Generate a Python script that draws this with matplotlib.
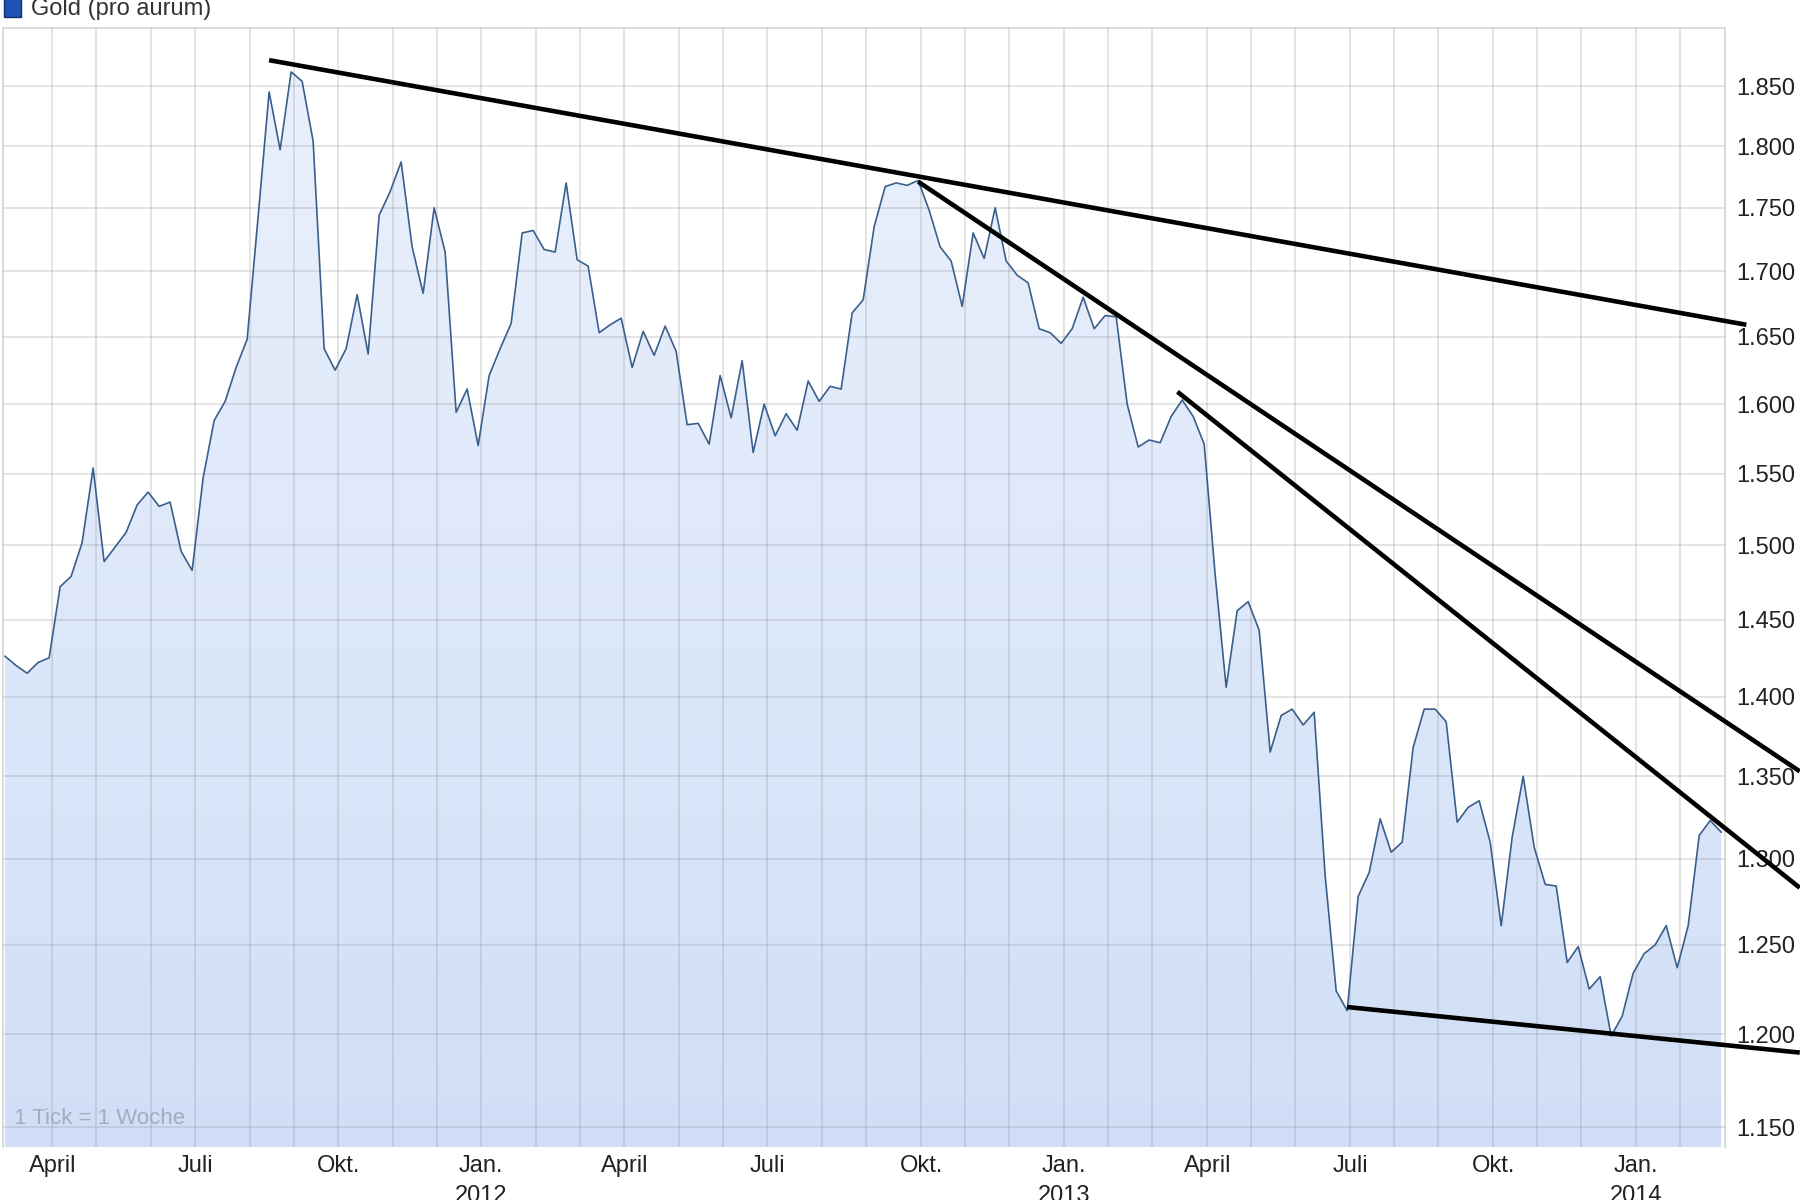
import numpy as np
import pandas as pd
import matplotlib
matplotlib.use("Agg")
import matplotlib.pyplot as plt
import matplotlib.dates as mdates
from matplotlib.ticker import FixedLocator, FuncFormatter, NullLocator
from matplotlib.image import AxesImage
from matplotlib.patches import Rectangle
from matplotlib.colors import LinearSegmentedColormap

# ---------------- data ----------------
start_date = "2011-03-04"          # first weekly close (Friday)
gold_usd = [
    1426, 1420, 1415, 1422, 1425, 1472, 1479, 1502, 1554, 1489,
    1499, 1509, 1528, 1537, 1527, 1530, 1496, 1483, 1547, 1588,
    1602, 1627, 1648, 1743, 1845, 1797, 1862, 1854, 1804, 1641,
    1625, 1641, 1682, 1637, 1744, 1763, 1787, 1719, 1683, 1750,
    1715, 1594, 1611, 1570, 1621, 1641, 1660, 1730, 1732, 1717,
    1715, 1770, 1709, 1704, 1653, 1659, 1664, 1627, 1654, 1636,
    1658, 1639, 1585, 1586, 1571, 1621, 1590, 1632, 1565, 1600,
    1577, 1593, 1581, 1617, 1602, 1613, 1611, 1668, 1678, 1735,
    1767, 1770, 1768, 1772, 1748, 1719, 1708, 1673, 1730, 1710,
    1750, 1708, 1697, 1691, 1656, 1653, 1645, 1656, 1680, 1656,
    1666, 1665, 1600, 1569, 1574, 1572, 1591, 1603, 1591, 1571,
    1480, 1406, 1456, 1462, 1443, 1365, 1388, 1392, 1382, 1390,
    1290, 1224, 1213, 1278, 1292, 1324, 1304, 1310, 1368, 1392,
    1392, 1384, 1322, 1331, 1335, 1310, 1261, 1313, 1350, 1307,
    1285, 1284, 1240, 1249, 1225, 1232, 1199, 1210, 1234, 1245,
    1250, 1261, 1237, 1261, 1314, 1323, 1316,
]

y_ticks = list(range(1150, 1851, 50))
y_limits = (1139.8, 1899.7)
x_limits = ("2011-03-02 11:00", "2014-03-02 10:00")
grid_months = ("2011-04-01", "2014-02-01")
quarter_names = {1: "Jan.", 4: "April", 7: "Juli", 10: "Okt."}

# hand-drawn trend lines (start / end in data space)
trend_start_dates = ["2011-08-19", "2012-10-05", "2013-03-19", "2013-07-05"]
trend_start_vals = [1872, 1771, 1609, 1215]
trend_end_dates = ["2014-03-16", "2014-04-19", "2014-04-19", "2014-04-19"]
trend_end_vals = [1659, 1353, 1283, 1190]

legend_label = "Gold (pro aurum)"
tick_note = "1 Tick = 1 Woche"

# ---------------- figure ----------------
plt.rcParams["font.family"] = ["Liberation Sans Narrow", "Liberation Sans", "DejaVu Sans"]

fig = plt.figure(figsize=(18, 12), dpi=100)
ax = fig.add_axes([2.7 / 1800, 1 - 1147 / 1200, (1725 - 2.7) / 1800, (1147 - 28) / 1200])

dates = pd.date_range(start_date, periods=len(gold_usd), freq="7D")
xd = mdates.date2num(dates.to_pydatetime())
vals = np.array(gold_usd, dtype=float)

ax.set_yscale("log")
ax.set_xlim(mdates.date2num(pd.Timestamp(x_limits[0])), mdates.date2num(pd.Timestamp(x_limits[1])))
ax.set_ylim(*y_limits)
ax.set_autoscale_on(False)

# gradient area fill clipped to the area under the curve
poly = ax.fill_between(xd, vals, y_limits[0], facecolor="none", edgecolor="none")
cmap = LinearSegmentedColormap.from_list("fillgrad", ["#d0dff7", "#ebf1fc"])
grad = np.linspace(0, 1, 256).reshape(-1, 1)
im = AxesImage(ax, cmap=cmap, interpolation="bilinear", origin="lower",
               extent=(0, 1, 0, 1), transform=ax.transAxes)
im.set_data(grad)
im.set_zorder(1)
ax.add_image(im)
im.set_clip_path(poly.get_paths()[0], ax.transData)

# data line
ax.plot(xd, vals, color="#3a5f8c", lw=1.2, zorder=3)

# trend lines
for sd, sv, ed, ev in zip(trend_start_dates, trend_start_vals, trend_end_dates, trend_end_vals):
    ax.plot([mdates.date2num(pd.Timestamp(sd)), mdates.date2num(pd.Timestamp(ed))], [sv, ev],
            color="black", lw=3.3, zorder=5, clip_on=False, solid_capstyle="butt")

# y axis (right side, German thousands separator)
ax.yaxis.tick_right()
ax.yaxis.set_major_locator(FixedLocator(y_ticks))
ax.yaxis.set_minor_locator(NullLocator())
ax.yaxis.set_major_formatter(FuncFormatter(lambda v, p: f"{int(round(v)):,}".replace(",", ".")))
ax.tick_params(axis="y", length=0, pad=8, labelsize=17, labelcolor="#222222")

# x axis: monthly grid at the first Sunday of each month, labels every quarter
month_starts = pd.date_range(grid_months[0], grid_months[1], freq="MS")
first_sundays = [ms + pd.Timedelta(days=(6 - ms.weekday()) % 7) for ms in month_starts]
xt = [mdates.date2num(d.to_pydatetime()) for d in first_sundays]
labels = []
for ms in month_starts:
    name = quarter_names.get(ms.month, "")
    if ms.month == 1:
        name = f"{name}\n{ms.year}"
    labels.append(name)
ax.xaxis.set_major_locator(FixedLocator(xt))
ax.xaxis.set_minor_locator(NullLocator())
ax.set_xticklabels(labels)
ax.tick_params(axis="x", length=0, pad=6, labelsize=17, labelcolor="#222222")
for t in ax.get_xticklabels():
    t.set_linespacing(1.45)

ax.set_axisbelow(False)
ax.grid(True, color="#8a8a8a", alpha=0.25, lw=1.3)
for s in ax.spines.values():
    s.set_color("#d8d8d8")
    s.set_linewidth(1.3)
ax.spines["bottom"].set_visible(False)

# note inside plot
fig.text(14 / 1800, 1 - 1118 / 1200, tick_note, fontsize=16, color="#a3adbd", va="center", ha="left")

# legend (partially cut at the top edge)
fig.patches.append(Rectangle((4 / 1800, 1 - 17.3 / 1200), 16.5 / 1800, 0.03,
                             transform=fig.transFigure, facecolor="#2152b5",
                             edgecolor="#0f2f70", lw=1.0))
fig.text(30.7 / 1800, 1 - 15 / 1200, legend_label, fontsize=17, color="#333333",
         va="baseline", ha="left")

fig.savefig("out.png", dpi=100)
